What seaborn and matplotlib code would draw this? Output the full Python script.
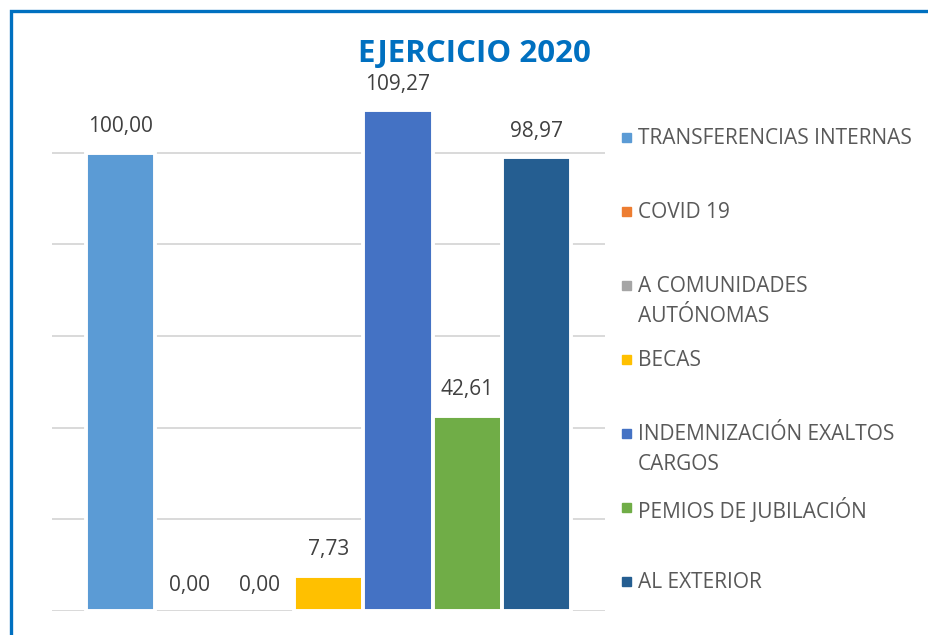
"""
Ejercicio 2020 - gráfico de barras por concepto
"""

import matplotlib
matplotlib.use("Agg")
import matplotlib.pyplot as plt
from matplotlib.patches import Rectangle
import pandas as pd
import seaborn as sns

# Datos del gráfico
categorias = [
    "TRANSFERENCIAS INTERNAS",
    "COVID 19",
    "A COMUNIDADES\nAUTÓNOMAS",
    "BECAS",
    "INDEMNIZACIÓN EXALTOS\nCARGOS",
    "PEMIOS DE JUBILACIÓN",
    "AL EXTERIOR",
]
valores = [100.00, 0.00, 0.00, 7.73, 109.27, 42.61, 98.97]
colores = ["#5B9BD5", "#ED7D31", "#A5A5A5", "#FFC000", "#4472C4", "#70AD47", "#255E91"]
titulo = "EJERCICIO 2020"

df = pd.DataFrame({"categoria": categorias, "valor": valores})

sns.set_style("white")
plt.rcParams["font.family"] = ["Open Sans", "DejaVu Sans"]

W, H = 929, 635
fig = plt.figure(figsize=(W / 100, H / 100), dpi=100)
ax = fig.add_axes([52 / W, 1 - 611 / H, (605 - 52) / W, (611 - 61) / H])

sns.barplot(data=df, x="categoria", y="valor", hue="categoria",
            palette=colores, saturation=1, width=1.0, edgecolor="white",
            linewidth=2.8, legend=False, ax=ax, zorder=3)

# las barras a cero no deben tapar la línea base
for p in ax.patches:
    if p.get_height() == 0:
        p.set_linewidth(0)

ax.set_xlim(-0.985, 6.985)
ax.set_ylim(0, 120)
ax.set_yticks([0, 20, 40, 60, 80, 100])
ax.yaxis.grid(True, color="#D9D9D9", linewidth=1.4, zorder=0)
ax.set_axisbelow(True)
ax.tick_params(left=False, bottom=False, labelleft=False, labelbottom=False)
ax.set_xlabel("")
ax.set_ylabel("")
for s in ax.spines.values():
    s.set_visible(False)

# Etiquetas de datos (coma decimal)
for i, v in enumerate(valores):
    ax.annotate(f"{v:.2f}".replace(".", ","), (i, v), xytext=(0, 11),
                textcoords="offset points", ha="center", va="bottom",
                fontsize=15, color="#404040")

# Título
fig.text(474 / W, 1 - 54 / H, titulo, ha="center", va="center",
         fontsize=22.5, fontweight="bold", color="#0070C0")

# Leyenda manual (entradas espaciadas como en Excel)
for i, (cat, col) in enumerate(zip(categorias, colores)):
    y = 1 - (137.5 + 74 * i) / H
    fig.patches.append(Rectangle((622 / W, y - 4.5 / H), 9 / W, 9 / H,
                                 transform=fig.transFigure, color=col))
    fig.text(638 / W, y + 10 / H, cat, ha="left", va="top", fontsize=15,
             color="#595959", linespacing=1.6)

# Marco azul
fig.patches.append(Rectangle((11 / W, -0.2), 1.2, 1.2 - 10.5 / H,
                             transform=fig.transFigure, fill=False,
                             edgecolor="#0070C0", linewidth=2.4))

plt.savefig("out.png", dpi=100)
plt.close()
